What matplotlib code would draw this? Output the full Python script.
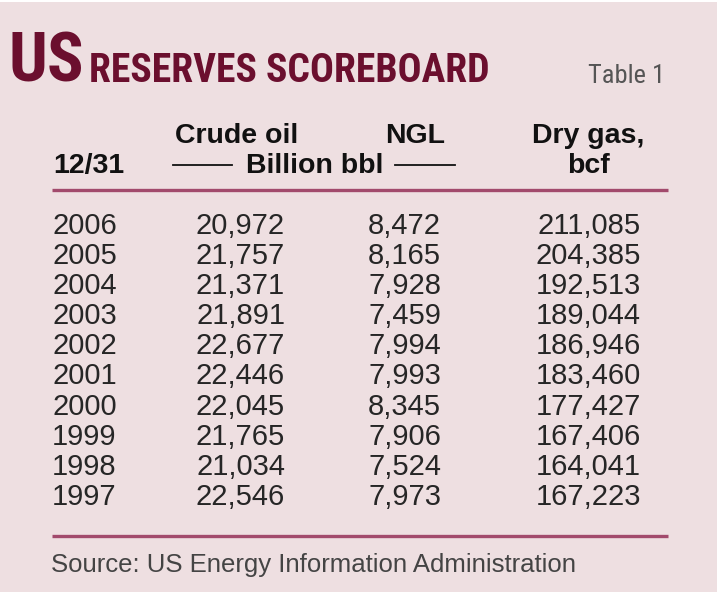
import matplotlib
matplotlib.use("Agg")
import matplotlib.pyplot as plt
from matplotlib import font_manager
from matplotlib.patches import Rectangle

# table contents
years = ["2006", "2005", "2004", "2003", "2002", "2001", "2000", "1999", "1998", "1997"]
crude_oil = ["20,972", "21,757", "21,371", "21,891", "22,677", "22,446", "22,045", "21,765", "21,034", "22,546"]
ngl = ["8,472", "8,165", "7,928", "7,459", "7,994", "7,993", "8,345", "7,906", "7,524", "7,973"]
dry_gas = ["211,085", "204,385", "192,513", "189,044", "186,946", "183,460", "177,427", "167,406", "164,041", "167,223"]

title_big = "US"
title_small = "RESERVES SCOREBOARD"
table_no = "Table 1"
source = "Source: US Energy Information Administration"

BG = "#eedfe1"
MAROON = "#6b0f2e"
RULE = "#a24a6c"
SANS = ["Liberation Sans", "DejaVu Sans"]

# look for a condensed face for the title, if one is installed
names = {f.name for f in font_manager.fontManager.ttflist}
narrow = None
for cand in ["Liberation Sans Narrow", "Roboto Condensed", "Open Sans Condensed",
             "DejaVu Sans Condensed"]:
    if cand in names:
        narrow = cand
        break
if narrow:
    NARROW = [narrow, "Liberation Sans"]
    big_fs, small_fs, tab_fs = 49, 28.5, 19
else:
    NARROW = SANS
    big_fs, small_fs, tab_fs = 38, 24, 16

fig = plt.figure(figsize=(7.2, 5.92), dpi=100, facecolor="white")
ax = fig.add_axes([0, 0, 1, 1])
ax.set_xlim(0, 720)
ax.set_ylim(592, 0)
ax.axis("off")

ax.add_patch(Rectangle((0, 2), 717, 590, facecolor=BG, edgecolor="none"))

# title
t = ax.text(8, 82, title_big, family=NARROW, weight="bold", fontsize=big_fs,
            color=MAROON, va="baseline", ha="left")
fig.canvas.draw()
bb = t.get_window_extent()
ax.text(bb.x1 + 5, 82, title_small, family=NARROW, weight="bold", fontsize=small_fs,
        color=MAROON, va="baseline", ha="left")
ax.text(665, 83, table_no, family=NARROW, fontsize=tab_fs, color="#555555",
        va="baseline", ha="right")

# header
hdr = dict(family=SANS, weight="bold", fontsize=20.5, color="#111111", va="baseline")
ax.text(237, 143, "Crude oil", ha="center", **hdr)
ax.text(445, 143, "NGL", ha="right", **hdr)
ax.text(588, 143, "Dry gas,", ha="center", **hdr)
ax.text(53, 173, "12/31", ha="left", **hdr)
ax.text(315, 173, "Billion bbl", ha="center", **hdr)
ax.text(588, 173, "bcf", ha="center", **hdr)
ax.plot([173, 232], [165, 165], color="#111111", lw=1.3)
ax.plot([395, 455], [165, 165], color="#111111", lw=1.3)

ax.plot([52, 668], [190, 190], color=RULE, lw=2.4, solid_capstyle="butt")

# rows
cell = dict(family=SANS, fontsize=21, color="#262626", va="baseline")
for i, yr in enumerate(years):
    y = 233.5 + 30.2 * i
    ax.text(52, y, yr, ha="left", **cell)
    ax.text(285, y, crude_oil[i], ha="right", **cell)
    ax.text(441, y, ngl[i], ha="right", **cell)
    ax.text(641, y, dry_gas[i], ha="right", **cell)

ax.plot([52, 668], [536, 536], color=RULE, lw=2.4, solid_capstyle="butt")

ax.text(51, 572, source, family=SANS, fontsize=18.5, color="#444444",
        va="baseline", ha="left")

fig.savefig("out.png", dpi=100, facecolor="white")
